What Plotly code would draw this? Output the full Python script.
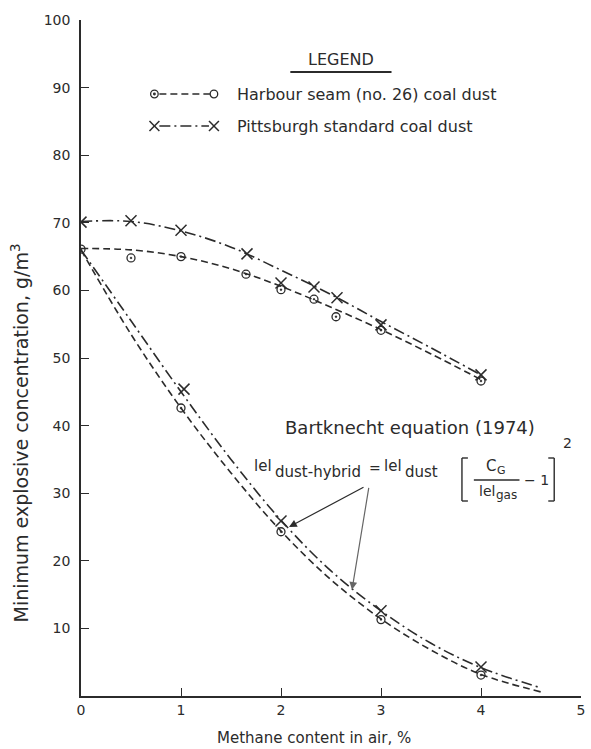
import plotly.graph_objects as go

# ---------------- data ----------------
# Harbour seam (no. 26) coal dust - measured points
harbour_x = [0, 0.5, 1.0, 1.65, 2.0, 2.33, 2.55, 3.0, 4.0]
harbour_y = [66.1, 64.8, 65.0, 62.4, 60.1, 58.7, 56.1, 54.1, 46.6]
# Pittsburgh standard coal dust - measured points
pitts_x = [0, 0.5, 1.0, 1.66, 2.0, 2.33, 2.56, 3.0, 4.0]
pitts_y = [70.1, 70.3, 68.9, 65.4, 61.1, 60.5, 58.9, 54.9, 47.5]

# smoothed curves through the measured points
harbour_fit_x = [0, 0.5, 1.0, 1.5, 2.0, 2.5, 3.0, 3.5, 4.0]
harbour_fit_y = [66.2, 66.0, 65.0, 63.2, 60.6, 57.5, 54.2, 50.6, 46.8]
pitts_fit_x = [0, 0.5, 1.0, 1.5, 2.0, 2.5, 3.0, 3.5, 4.0]
pitts_fit_y = [70.2, 70.2, 68.8, 66.4, 63.0, 59.4, 55.4, 51.5, 47.5]

# Bartknecht equation curves
bart_h_x = [0, 0.5, 1.0, 1.5, 2.0, 2.5, 3.0, 3.5, 4.0, 4.6]
bart_h_y = [66.0, 53.5, 42.6, 33.0, 24.4, 17.2, 11.4, 6.8, 3.2, 0.6]
bart_p_x = [0, 0.5, 1.0, 1.5, 2.0, 2.5, 3.0, 3.5, 4.0, 4.6]
bart_p_y = [66.0, 55.5, 45.0, 35.0, 26.0, 18.5, 12.6, 7.8, 4.2, 1.2]

# points on the Bartknecht curves
bart_h_pts_x = [1.0, 2.0, 3.0, 4.0]
bart_h_pts_y = [42.6, 24.3, 11.3, 3.1]
bart_p_pts_x = [1.03, 2.0, 3.0, 4.0]
bart_p_pts_y = [45.4, 25.9, 12.6, 4.3]

x_ticks = [0, 1, 2, 3, 4, 5]
y_ticks = [10, 20, 30, 40, 50, 60, 70, 80, 90, 100]

# ---------------- styling ----------------
INK = "#2b2b2b"
FONT = "DejaVu Sans"
W, H = 591, 749
ML, MR, MT, MB = 81, 6, 20, 53
PW, PH = W - ML - MR, H - MT - MB
DASH_H = "7px,4px"
DASH_P = "11px,4px,2px,4px"


def px(x):
    return (x - ML) / PW


def py(y):
    return (H - MB - y) / PH


fig = go.Figure()

line_h = dict(color=INK, width=1.6, dash=DASH_H)
line_p = dict(color=INK, width=1.6, dash=DASH_P)
mk_h = dict(symbol="circle-open-dot", size=8, color=INK, line=dict(width=1.3, color=INK))
mk_p = dict(symbol="x-thin-open", size=11, color=INK, line=dict(width=1.5, color=INK))

fig.add_trace(go.Scatter(x=harbour_fit_x, y=harbour_fit_y, mode="lines",
                         line=dict(shape="spline", **line_h), showlegend=False))
fig.add_trace(go.Scatter(x=pitts_fit_x, y=pitts_fit_y, mode="lines",
                         line=dict(shape="spline", **line_p), showlegend=False))
fig.add_trace(go.Scatter(x=bart_h_x, y=bart_h_y, mode="lines",
                         line=dict(shape="spline", **line_h), showlegend=False))
fig.add_trace(go.Scatter(x=bart_p_x, y=bart_p_y, mode="lines",
                         line=dict(shape="spline", **line_p), showlegend=False))
fig.add_trace(go.Scatter(x=harbour_x, y=harbour_y, mode="markers", marker=mk_h,
                         name="Harbour seam (no. 26) coal dust", showlegend=False))
fig.add_trace(go.Scatter(x=pitts_x, y=pitts_y, mode="markers", marker=mk_p,
                         name="Pittsburgh standard coal dust", showlegend=False))
fig.add_trace(go.Scatter(x=bart_h_pts_x, y=bart_h_pts_y, mode="markers", marker=mk_h,
                         showlegend=False))
fig.add_trace(go.Scatter(x=bart_p_pts_x, y=bart_p_pts_y, mode="markers", marker=mk_p,
                         showlegend=False))

shapes = []
ann = []


def text(x, y, s, size=15, xanchor="center", yanchor="middle", angle=0):
    ann.append(dict(x=px(x), y=py(y), xref="paper", yref="paper", text=s,
                    showarrow=False, xanchor=xanchor, yanchor=yanchor,
                    textangle=angle, borderpad=0, borderwidth=0,
                    font=dict(family=FONT, size=size, color=INK)))


def seg(x0, y0, x1, y1, width=1.4, dash="solid"):
    shapes.append(dict(type="line", xref="paper", yref="paper",
                       x0=px(x0), y0=py(y0), x1=px(x1), y1=py(y1),
                       line=dict(color=INK, width=width, dash=dash)))


def circ(x, y, r, width=1.3):
    shapes.append(dict(type="circle", xref="paper", yref="paper",
                       x0=px(x - r), x1=px(x + r), y0=py(y + r), y1=py(y - r),
                       line=dict(color=INK, width=width)))


def cross(x, y, r):
    seg(x - r, y - r, x + r, y + r, 1.5)
    seg(x - r, y + r, x + r, y - r, 1.5)


# ---- legend (drawn) ----
text(343, 60, "LEGEND", 16)
seg(292, 72, 394, 72, 2.2)
circ(155, 94, 3.8)
circ(155, 94, 0.8)
seg(160, 94, 211, 94, 1.6, DASH_H)
circ(215, 94, 3.8)
text(238, 95, "Harbour seam (no. 26) coal dust", 16, xanchor="left")
cross(155, 126, 5)
seg(160, 126, 210, 126, 1.6, DASH_P)
cross(215, 126, 5)
text(238, 127, "Pittsburgh standard coal dust", 16, xanchor="left")

# ---- Bartknecht equation ----
text(413, 427, "Bartknecht equation (1974)", 18)
text(255, 466, "lel", 15, xanchor="left")
text(277, 472, "dust-hybrid", 15, xanchor="left")
text(371, 468, "=", 14, xanchor="left")
text(386, 466, "lel", 15, xanchor="left")
text(408, 472, "dust", 15, xanchor="left")
# left bracket
seg(465, 458, 465, 501, 1.4)
seg(465, 458, 471, 458, 1.4)
seg(465, 501, 471, 501, 1.4)
# right bracket
seg(558, 458, 558, 501, 1.4)
seg(552, 458, 558, 458, 1.4)
seg(552, 501, 558, 501, 1.4)
text(494, 466, "C", 15)
text(505, 470, "G", 11)
seg(477, 480, 523, 480, 1.3)
text(490, 491, "lel", 14)
text(510, 495, "gas", 12)
text(540, 480, "− 1", 14)
text(571, 443, "2", 14)

# arrows from the equation to the curves
ann.append(dict(x=2.08, y=25.0, ax=2.84, ay=31.0, xref="x", yref="y", axref="x", ayref="y",
                showarrow=True, arrowhead=2, arrowsize=1.3, arrowwidth=1.2,
                arrowcolor=INK, text=""))
ann.append(dict(x=2.71, y=15.7, ax=2.88, ay=31.0, xref="x", yref="y", axref="x", ayref="y",
                showarrow=True, arrowhead=2, arrowsize=1.3, arrowwidth=1.2,
                arrowcolor="#666666", text=""))

# axis titles
text(20, 433, "Minimum explosive concentration, g/m<sup>3</sup>", 19, angle=-90)
text(316, 738, "Methane content in air, %", 15)

fig.update_layout(
    width=W, height=H,
    margin=dict(l=ML, r=MR, t=MT, b=MB),
    paper_bgcolor="white", plot_bgcolor="white",
    shapes=shapes, annotations=ann, showlegend=False,
    font=dict(family=FONT, color=INK),
)
fig.update_xaxes(range=[0, 5], tickvals=x_ticks, ticktext=[str(v) for v in x_ticks],
                 showgrid=False, zeroline=False, showline=True, linecolor=INK, linewidth=1.6,
                 ticks="inside", ticklen=8, tickwidth=1.3, tickcolor=INK,
                 ticklabeloverflow="allow",
                 tickfont=dict(family=FONT, size=14, color=INK))
fig.update_yaxes(range=[0, 100], tickvals=y_ticks, ticktext=[str(v) for v in y_ticks],
                 showgrid=False, zeroline=False, showline=True, linecolor=INK, linewidth=1.6,
                 ticks="inside", ticklen=8, tickwidth=1.3, tickcolor=INK,
                 ticklabelstandoff=6,
                 tickfont=dict(family=FONT, size=14, color=INK))

# remove the browser's default 8px body margin so the figure fills the window exactly
fig.write_html("out.html",
               config={"displayModeBar": False},
               post_script="document.body.style.margin='0px';document.body.style.overflow='hidden';")
